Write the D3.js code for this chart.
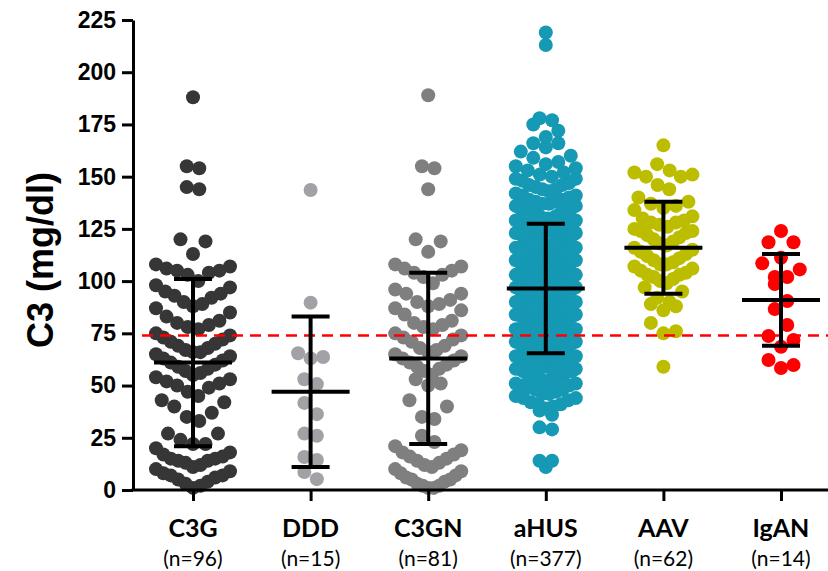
<!DOCTYPE html>
<html>
<head>
<meta charset="utf-8">
<script src="https://cdn.jsdelivr.net/npm/d3@7"></script>
<style>
  html, body { margin: 0; padding: 0; background: #fff; }
  svg { display: block; }
</style>
</head>
<body>
<svg id="chart" width="828" height="571"></svg>
<script>
// ---------------- DATA ----------------
const categories = ["C3G", "DDD", "C3GN", "aHUS", "AAV", "IgAN"];
const nLabels = ["(n=96)", "(n=15)", "(n=81)", "(n=377)", "(n=62)", "(n=14)"];
const groupColors = ["#363636", "#a2a2a6", "#7f7f7f", "#1599b4", "#bdbd00", "#ff0000"];

const c3gValues = [188, 155, 154, 145, 144, 120, 119, 113,
  108, 107, 106, 105, 105, 104, 103,
  100, 98, 97, 95,
  94, 93, 92, 90, 89, 88, 87,
  85, 83, 81, 80, 79, 78,
  77, 75, 74, 73, 72, 71, 70,
  69, 68, 67, 66, 66, 65, 64, 63,
  62, 61, 60, 59, 58, 57, 56,
  55, 54, 53, 52, 51, 50, 49,
  47, 45, 43, 42,
  40, 37, 35,
  33, 27, 27,
  24, 22, 22,
  20, 18, 17, 16, 15, 15, 14, 14,
  13, 12, 11, 10, 9, 8, 7, 7,
  6, 5, 4, 3, 2, 1];

const dddValues = [143.6, 89.7, 65.5, 63, 63.7, 53, 50.7, 41.7, 36.3, 27, 26, 14.4, 15.8, 8.6, 5.2];

const c3gnValues = [189, 155, 154, 144, 120, 119, 114, 108,
  107, 106, 105, 104, 103, 102,
  99, 96, 94, 94,
  91, 90, 89, 88, 87, 86,
  84, 81, 80, 79, 78,
  77, 75, 74, 73, 72, 71,
  69, 68, 67, 66, 65, 64, 63,
  62, 61, 60, 59, 58, 57,
  55, 53, 51, 50,
  43, 40,
  35, 34,
  26, 23, 21,
  19, 18, 17, 16, 15, 14,
  13, 12, 11, 10, 9, 8, 7,
  6, 5, 5, 4, 3, 2, 2, 1, 1];

const ahusValues = [11, 14, 14, 29, 30, 36, 38, 39,
  40, 41, 41, 42, 43, 44, 44, 45, 46, 46, 47, 48, 48, 49,
  50, 50, 51, 51, 52, 52, 53, 53, 53, 54, 54, 55, 55, 55, 56, 56, 57, 57, 57, 58, 58, 58, 59, 59, 59,
  60, 60, 60, 61, 61, 61, 62, 62, 62, 62, 63, 63, 63, 64, 64, 64, 64, 65, 65, 65, 66, 66, 66, 66, 67, 67, 67, 68, 68, 68, 68, 69, 69, 69, 69, 69,
  70, 70, 70, 70, 71, 71, 71, 71, 72, 72, 72, 72, 72, 73, 73, 73, 73, 74, 74, 74, 74, 75, 75, 75, 75, 75, 76, 76, 76, 76, 77, 77, 77, 77, 78, 78, 78, 78, 79, 79, 79, 79,
  80, 80, 80, 80, 81, 81, 81, 81, 81, 82, 82, 82, 82, 83, 83, 83, 83, 84, 84, 84, 84, 84, 85, 85, 85, 85, 86, 86, 86, 86, 87, 87, 87, 87, 87, 88, 88, 88, 88, 89, 89, 89, 89,
  90, 90, 90, 90, 91, 91, 91, 91, 92, 92, 92, 92, 92, 93, 93, 93, 93, 94, 94, 94, 94, 95, 95, 95, 95, 95, 96, 96, 96, 96, 97, 97, 97, 97, 98, 98, 98, 98, 99, 99, 99, 99,
  100, 100, 100, 100, 101, 101, 101, 101, 102, 102, 102, 102, 102, 103, 103, 103, 103, 104, 104, 104, 104, 105, 105, 105, 105, 105, 106, 106, 106, 106, 107, 107, 107, 107, 108, 108, 108, 108, 109, 109, 109, 109,
  110, 110, 110, 110, 111, 111, 111, 111, 112, 112, 112, 112, 113, 113, 113, 113, 114, 114, 114, 114, 115, 115, 115, 115, 116, 116, 116, 116, 117, 117, 117, 118, 118, 118, 118, 119, 119, 119,
  120, 120, 120, 121, 121, 121, 122, 122, 122, 123, 123, 123, 124, 124, 124, 125, 125, 125, 126, 126, 126, 127, 127, 127, 128, 128, 128, 129, 129, 129,
  130, 130, 130, 131, 131, 132, 132, 133, 133, 134, 134, 135, 135, 135, 136, 136, 137, 137, 138, 138, 139, 139,
  140, 141, 141, 142, 143, 144, 144, 145, 146, 146, 147, 148, 149, 149,
  150, 151, 152, 153, 154, 155, 156, 157, 159,
  160, 162, 164, 166, 166, 169,
  172, 175, 177, 178,
  213, 219];

const aavValues = [165, 156, 153, 152, 151, 150, 150, 146, 144,
  140, 138, 137, 136, 135, 134,
  131, 130, 129, 128, 128, 127, 126, 125,
  124, 124, 123, 122, 121, 120, 119, 118, 117, 116,
  115, 114, 113, 112, 111, 110, 109, 108, 108, 107, 106, 105,
  104, 103, 103, 102, 101, 100, 99,
  97, 95, 92, 90, 89, 88, 86,
  80, 76, 75, 59];

const iganValues = [124, 118.6, 118.6, 111.2, 108.5, 105.6, 102, 102, 98.6, 90.5, 86.6, 79, 73.7, 71.8, 68.6, 62.2, 58.4, 59.8];

const groupValues = [c3gValues, dddValues, c3gnValues, ahusValues, aavValues, iganValues];
const groupMeans = [61, 47, 63, 96.5, 116, 91];
const groupSDs = [40, 36, 41, 31, 22, 22];
const referenceValue = 74;
const yTicks = [0, 25, 50, 75, 100, 125, 150, 175, 200, 225];
const yTitle = "C3 (mg/dl)";

// ---------------- LAYOUT ----------------
const axisX = 133, axisY = 490, topY = 20, rightX = 828;
const dotR = 7;
const halfWidths = [37, 23, 33, 30, 29, 30];
const binSizes = [11, 11, 11, 6.5, 9, 11];   // value units per swarm row
const slotStep = 12.5;  // px between neighbours in a row

const svg = d3.select("#chart");
const x = d3.scalePoint().domain(categories).range([193, 781]);
const y = d3.scaleLinear().domain([0, 225]).range([axisY, topY]);

// Prism-like row swarm: values binned into rows; within each row sorted
// ascending and laid out centre-out; rows too wide are compressed.
function rowSwarm(values, maxHalf, binSize) {
  const rows = d3.groups(values, v => Math.floor(v / binSize));
  const out = [];
  rows.forEach(([, vals]) => {
    const sorted = vals.slice().sort((a, b) => a - b);
    const n = sorted.length;
    const step = n > 1 ? Math.min(slotStep, (2 * maxHalf) / (n - 1)) : 0;
    sorted.forEach((v, k) => {
      let p;
      if (n % 2 === 1) {
        p = k === 0 ? 0 : (k % 2 === 1 ? (k + 1) / 2 : -k / 2);
      } else {
        p = k % 2 === 0 ? (k / 2 + 0.5) : -((k - 1) / 2 + 0.5);
      }
      out.push({v, dx: p * step});
    });
  });
  return out;
}

// dots
categories.forEach((cat, gi) => {
  const pts = rowSwarm(groupValues[gi], halfWidths[gi], binSizes[gi]);
  svg.append("g")
    .selectAll("circle")
    .data(pts)
    .join("circle")
    .attr("cx", d => x(cat) + d.dx)
    .attr("cy", d => y(d.v))
    .attr("r", dotR)
    .attr("fill", groupColors[gi]);
});

// reference dashed line
svg.append("line")
  .attr("x1", axisX + 9).attr("x2", rightX)
  .attr("y1", y(referenceValue)).attr("y2", y(referenceValue))
  .attr("stroke", "#ff0000").attr("stroke-width", 2.5)
  .attr("stroke-dasharray", "11,7");

// mean ± SD bars
const eb = svg.append("g").attr("stroke", "#000").attr("stroke-width", 4);
categories.forEach((cat, gi) => {
  const cx = x(cat), m = groupMeans[gi], s = groupSDs[gi];
  eb.append("line").attr("x1", cx).attr("x2", cx).attr("y1", y(m + s)).attr("y2", y(m - s));
  eb.append("line").attr("x1", cx - 39).attr("x2", cx + 39).attr("y1", y(m)).attr("y2", y(m));
  eb.append("line").attr("x1", cx - 19).attr("x2", cx + 19).attr("y1", y(m + s)).attr("y2", y(m + s));
  eb.append("line").attr("x1", cx - 19).attr("x2", cx + 19).attr("y1", y(m - s)).attr("y2", y(m - s));
});

// y axis
const yAxisG = svg.append("g")
  .attr("transform", `translate(${axisX},0)`)
  .call(d3.axisLeft(y).tickValues(yTicks).tickSize(11).tickSizeOuter(0).tickPadding(6));
yAxisG.select(".domain").attr("stroke", "#000").attr("stroke-width", 3);
yAxisG.selectAll(".tick line").attr("stroke", "#000").attr("stroke-width", 3);
yAxisG.selectAll(".tick text")
  .attr("font-family", "'Liberation Sans', Arial, sans-serif")
  .attr("font-weight", "bold").attr("font-size", 23).attr("fill", "#000");

// x axis
const xAxisG = svg.append("g")
  .attr("transform", `translate(0,${axisY})`)
  .call(d3.axisBottom(x).tickSize(11).tickSizeOuter(0).tickFormat(""));
xAxisG.select(".domain").remove();
xAxisG.selectAll(".tick line").attr("stroke", "#000").attr("stroke-width", 3);
xAxisG.append("line")
  .attr("x1", axisX - 1.5).attr("x2", rightX).attr("y1", 0).attr("y2", 0)
  .attr("stroke", "#000").attr("stroke-width", 3);

const labG = svg.append("g").attr("font-family", "Lato, 'Open Sans', sans-serif").attr("fill", "#000").attr("text-anchor", "middle");
labG.selectAll("text.cat").data(categories).join("text")
  .attr("class", "cat")
  .attr("x", d => x(d)).attr("y", 537)
  .attr("font-weight", "bold").attr("font-size", 25)
  .text(d => d);
labG.selectAll("text.n").data(nLabels).join("text")
  .attr("class", "n")
  .attr("x", (d, i) => x(categories[i])).attr("y", 566)
  .attr("font-size", 21)
  .text(d => d);

// y title
svg.append("text")
  .attr("transform", `translate(53,260) rotate(-90)`)
  .attr("text-anchor", "middle")
  .attr("font-family", "'Liberation Sans', Arial, sans-serif")
  .attr("font-weight", "bold").attr("font-size", 36)
  .attr("fill", "#000")
  .text(yTitle);
</script>
</body>
</html>
